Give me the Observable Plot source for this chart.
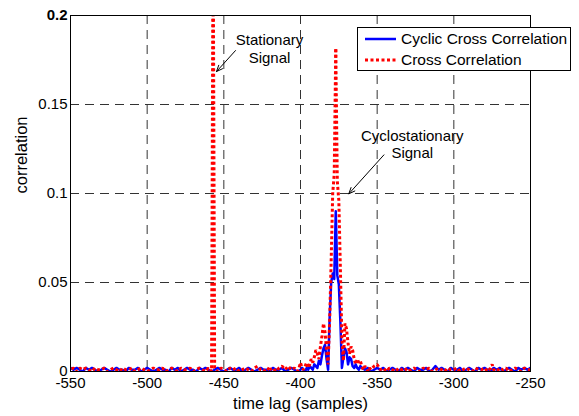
<!DOCTYPE html>
<html><head><meta charset="utf-8">
<script src="https://cdn.jsdelivr.net/npm/d3@7"></script>
<script src="https://cdn.jsdelivr.net/npm/@observablehq/plot@0.6"></script>
<style>
body{margin:0;background:#fff;}
#wrap{position:relative;width:579px;height:416px;font-family:"Liberation Sans",Arial,Helvetica,sans-serif;}
#legend{position:absolute;left:357px;top:27px;width:212px;height:42px;border:1px solid #000;background:#fff;}
.row{position:absolute;left:7px;height:20px;display:flex;align-items:center;font-size:15.5px;color:#000;white-space:nowrap;}
.row svg{margin-right:5px;}
</style></head><body><div id="wrap"></div>
<script>
// ---- data ----
const xTicks = [-550, -500, -450, -400, -350, -300, -250];
const yTicks = [0, 0.05, 0.1, 0.15, 0.2];
const seriesNames = ["Cyclic Cross Correlation", "Cross Correlation"];
const seriesColors = ["#0000ff", "#ff0000"];

// [time lag, correlation]
const cyclicCorr = [
[-550,.002],[-548,.001],[-546,.002],[-544,.001],[-542,.000],[-540,.002],[-538,.001],[-536,.002],[-534,.001],[-532,.000],
[-530,.001],[-528,.002],[-526,.001],[-524,.000],[-522,.001],[-520,.002],[-518,.001],[-516,.001],[-514,.000],[-512,.002],
[-510,.001],[-508,.001],[-506,.002],[-504,.000],[-502,.001],[-500,.002],[-498,.001],[-496,.000],[-494,.001],[-492,.002],
[-490,.001],[-488,.001],[-486,.000],[-484,.002],[-482,.001],[-480,.002],[-478,.000],[-476,.001],[-474,.002],[-472,.001],
[-470,.001],[-468,.000],[-466,.002],[-464,.001],[-462,.002],[-460,.001],[-458,.000],[-456,.001],[-454,.002],[-452,.001],
[-450,.000],[-448,.001],[-446,.002],[-444,.001],[-442,.001],[-440,.002],[-438,.000],[-436,.001],[-434,.002],[-432,.001],
[-430,.000],[-428,.001],[-426,.002],[-424,.001],[-422,.001],[-420,.000],[-418,.002],[-416,.001],[-414,.001],[-412,.002],
[-410,.000],[-408,.001],[-406,.002],[-404,.001],[-402,.000],[-400,.001],[-399,.002],[-398,.001],[-397,.000],[-396,.002],
[-395,.001],[-394,.003],[-393,.002],[-392,.001],[-391,.004],[-390,.003],[-389,.002],[-388,.006],[-387,.004],[-386,.009],
[-385,.013],[-384,.015],[-383,.007],[-382,.001],[-381,.030],[-380,.050],[-379,.055],[-378,.052],[-377,.090],[-376,.054],
[-375,.049],[-374,.028],[-373,.002],[-372,.008],[-371,.013],[-370,.011],[-369,.004],[-368,.008],[-367,.007],[-366,.003],
[-365,.002],[-364,.004],[-363,.002],[-362,.001],[-361,.003],[-360,.002],[-358,.001],[-356,.002],[-354,.000],[-352,.001],
[-350,.002],[-348,.001],[-346,.002],[-344,.000],[-342,.001],[-340,.002],[-338,.001],[-336,.000],[-334,.002],[-332,.001],
[-330,.002],[-328,.001],[-326,.000],[-324,.002],[-322,.001],[-320,.001],[-318,.002],[-316,.000],[-314,.001],[-312,.003],
[-310,.001],[-308,.002],[-306,.001],[-304,.000],[-302,.002],[-300,.001],[-298,.001],[-296,.002],[-294,.000],[-292,.001],
[-290,.002],[-288,.001],[-286,.000],[-284,.002],[-282,.001],[-280,.002],[-278,.001],[-276,.000],[-274,.002],[-272,.001],
[-270,.002],[-268,.000],[-266,.001],[-264,.002],[-262,.001],[-260,.000],[-258,.002],[-256,.001],[-254,.002],[-252,.001],
[-250,.002]
];

const crossCorr = [
[-550,.001],[-548,.002],[-546,.000],[-544,.002],[-542,.001],[-540,.002],[-538,.001],[-536,.000],[-534,.002],[-532,.001],
[-530,.001],[-528,.002],[-526,.000],[-524,.001],[-522,.002],[-520,.001],[-518,.000],[-516,.002],[-514,.001],[-512,.001],
[-510,.002],[-508,.000],[-506,.001],[-504,.002],[-502,.001],[-500,.000],[-498,.001],[-496,.002],[-494,.001],[-492,.001],
[-490,.002],[-488,.000],[-486,.001],[-484,.002],[-482,.001],[-480,.000],[-478,.002],[-476,.001],[-474,.001],[-472,.002],
[-470,.000],[-468,.001],[-466,.002],[-464,.001],[-462,.000],[-460,.002],[-459,.001],[-458,.000],[-457,.260],[-456,.002],
[-455,.001],[-454,.000],[-452,.002],[-450,.001],[-448,.000],[-446,.002],[-444,.001],[-442,.002],[-440,.000],[-438,.001],
[-436,.002],[-434,.001],[-432,.000],[-430,.002],[-428,.003],[-426,.001],[-424,.000],[-422,.002],[-420,.001],[-418,.002],
[-416,.000],[-414,.002],[-412,.003],[-410,.001],[-408,.003],[-406,.001],[-404,.002],[-402,.000],[-401,.002],[-400,.005],
[-399,.002],[-398,.001],[-397,.003],[-396,.005],[-395,.002],[-394,.004],[-393,.007],[-392,.005],[-391,.008],[-390,.012],
[-389,.010],[-388,.007],[-387,.014],[-386,.020],[-385,.027],[-384,.022],[-383,.012],[-382,.004],[-381,.028],[-380,.062],
[-379,.100],[-378,.111],[-377,.181],[-376,.107],[-375,.096],[-374,.058],[-373,.018],[-372,.006],[-371,.027],[-370,.024],
[-369,.016],[-368,.010],[-367,.014],[-366,.012],[-365,.007],[-364,.004],[-363,.007],[-362,.005],[-361,.006],[-360,.003],
[-359,.001],[-358,.003],[-357,.002],[-356,.000],[-355,.002],[-354,.001],[-352,.003],[-350,.004],[-348,.001],[-346,.002],
[-344,.000],[-342,.002],[-340,.001],[-338,.000],[-336,.002],[-334,.001],[-332,.002],[-330,.000],[-328,.001],[-326,.002],
[-324,.001],[-322,.000],[-320,.002],[-318,.001],[-316,.002],[-314,.000],[-312,.001],[-310,.002],[-308,.001],[-306,.000],
[-304,.002],[-302,.001],[-300,.001],[-298,.002],[-296,.000],[-294,.001],[-292,.002],[-290,.001],[-288,.000],[-286,.002],
[-284,.001],[-282,.001],[-280,.002],[-278,.000],[-276,.002],[-275,.004],[-274,.001],[-272,.000],[-270,.002],[-268,.001],
[-266,.002],[-264,.000],[-262,.001],[-260,.002],[-258,.001],[-256,.000],[-254,.002],[-252,.001],[-250,.001]
];

// peaks of the dotted series (the dotted path is drawn outward from them so dots line up)
const crossPeakLags = [-457, -377];
const crossJoinLag = -420;

// annotations
const noteText = ["Stationary\nSignal", "Cyclostationary\nSignal"];
const noteX = [-420.2, -327.1];
const noteY = [0.1815, 0.1279];
const arrowFromX = [-442.4, -345.6];
const arrowFromY = [0.1803, 0.1217];
const arrowToX = [-454.8, -368.5];
const arrowToY = [0.1685, 0.0998];

const xLabel = "time lag (samples)";
const yLabel = "correlation";

// ---- chart ----
const notes = noteText.map((t, i) => ({t, x: noteX[i], y: noteY[i]}));
const arrows = arrowFromX.map((_, i) => ({x1: arrowFromX[i], y1: arrowFromY[i], x2: arrowToX[i], y2: arrowToY[i]}));
const FONT = "Liberation Sans, Arial, Helvetica, sans-serif";
const DOTS = "3,2.5";

const at = lag => crossCorr.findIndex(d => d[0] === lag);
const p1 = at(crossPeakLags[0]), pj = at(crossJoinLag), p2 = at(crossPeakLags[1]);
const crossPieces = [
  crossCorr.slice(0, p1 + 1).reverse(),
  crossCorr.slice(p1, pj + 1),
  crossCorr.slice(pj, p2 + 1).reverse(),
  crossCorr.slice(p2)
].flatMap((seg, k) => seg.map(d => ({lag: d[0], c: d[1], seg: k})));

const chart = Plot.plot({
  width: 579, height: 416,
  marginLeft: 70, marginRight: 49, marginTop: 15, marginBottom: 45,
  style: {fontFamily: FONT, background: "#fff", color: "#000"},
  x: {domain: [-550, -250]},
  y: {domain: [0, 0.2]},
  marks: [
    Plot.gridX(xTicks, {stroke: "#000", strokeOpacity: 0.8, strokeDasharray: "9,6"}),
    Plot.gridY(yTicks, {stroke: "#000", strokeOpacity: 0.8, strokeDasharray: "9,6"}),
    Plot.line(cyclicCorr, {x: d => d[0], y: d => d[1], stroke: seriesColors[0], strokeWidth: 2.5, clip: true}),
    Plot.line(crossPieces, {x: "lag", y: "c", z: "seg", stroke: seriesColors[1], strokeWidth: 3, strokeDasharray: DOTS, strokeLinecap: "butt", strokeLinejoin: "miter", clip: true}),
    Plot.axisX(xTicks, {tickSize: 0, tickPadding: 6, fontSize: 15, tickFormat: d => String(d), label: null}),
    Plot.axisY(yTicks.filter(t => t !== 0.2), {tickSize: 0, tickPadding: 3, fontSize: 15, tickFormat: d => String(d), label: null}),
    Plot.axisY(yTicks.filter(t => t === 0.2), {tickSize: 0, tickPadding: 3, fontSize: 15, fontWeight: "bold", tickFormat: d => String(d), label: null}),
    Plot.frame({stroke: "#000"}),
    Plot.text([xLabel], {frameAnchor: "bottom", dy: 32, fontSize: 16.5, lineAnchor: "middle", fill: "#000"}),
    Plot.text([yLabel], {frameAnchor: "left", dx: -48.6, rotate: -90, fontSize: 16.5, lineAnchor: "middle", fill: "#000"}),
    Plot.text(notes, {x: "x", y: "y", text: "t", fontSize: 15, lineHeight: 1.17, lineAnchor: "middle", fill: "#000"}),
    Plot.arrow(arrows, {x1: "x1", y1: "y1", x2: "x2", y2: "y2", stroke: "#000", strokeWidth: 1, headLength: 10, headAngle: 45})
  ]
});

const wrap = document.getElementById("wrap");
wrap.appendChild(chart);

// legend
const legend = document.createElement("div");
legend.id = "legend";
const rowTops = [1, 22];
seriesNames.forEach((name, i) => {
  const row = document.createElement("div");
  row.className = "row";
  row.style.top = rowTops[i] + "px";
  const dash = i === 1 ? ` stroke-dasharray="${DOTS}"` : '';
  const sw = i === 1 ? 3 : 2.5;
  row.innerHTML = `<svg width="31" height="8"><line x1="0" x2="31" y1="4" y2="4" stroke="${seriesColors[i]}" stroke-width="${sw}"${dash}/></svg><span>${name}</span>`;
  legend.appendChild(row);
});
wrap.appendChild(legend);
</script>
</body></html>
